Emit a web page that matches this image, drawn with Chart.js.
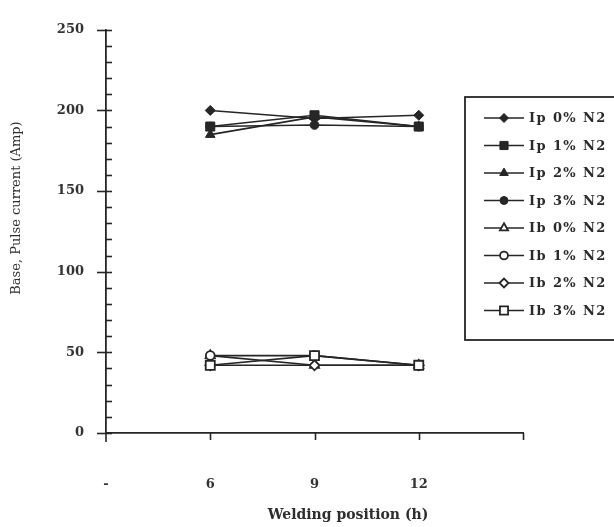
<!DOCTYPE html>
<html>
<head>
<meta charset="utf-8">
<script src="https://cdn.jsdelivr.net/npm/chart.js@4.4.1/dist/chart.umd.min.js"></script>
<style>
  html, body { margin: 0; padding: 0; background: #ffffff; }
  #wrap { position: relative; width: 614px; height: 527px; }
</style>
</head>
<body>
<div id="wrap"><canvas id="c" width="614" height="527"></canvas></div>
<script>
// Welding position categories ('-' is the origin slot, last slot is blank)
const positions = ['-', '6', '9', '12', ''];

// Pulse current (Ip) and base current (Ib), Amp, at positions 6, 9, 12
const ip0 = [200, 195, 197];
const ip1 = [190, 197, 190];
const ip2 = [185, 196, 190];
const ip3 = [190, 191, 190];
const ib0 = [48, 42, 42];
const ib1 = [48, 48, 42];
const ib2 = [42, 42, 42];
const ib3 = [42, 48, 42];

const seriesNames = ['Ip 0% N2', 'Ip 1% N2', 'Ip 2% N2', 'Ip 3% N2',
                     'Ib 0% N2', 'Ib 1% N2', 'Ib 2% N2', 'Ib 3% N2'];
const seriesValues = [ip0, ip1, ip2, ip3, ib0, ib1, ib2, ib3];

const yTicks = [0, 50, 100, 150, 200, 250];

const INK = '#262626';
const SERIF = '"DejaVu Serif", "Liberation Serif", serif';
const styles = ['rectRot', 'rect', 'triangle', 'circle', 'triangle', 'circle', 'rectRot', 'rect'];
const radii  = [5, 6.4, 5.5, 4.4, 5.2, 4.4, 5, 6.4];
// stacking: lower numbers are painted on top
const layer  = [12, 9, 11, 10, 4, 3, 2, 1];

function padSeries(vals) {
  // place the three readings on the 6 / 9 / 12 slots
  return [null, vals[0], vals[1], vals[2], null];
}

const datasets = seriesValues.map((vals, i) => {
  const open = i >= 4;
  return {
    label: seriesNames[i],
    data: padSeries(vals),
    borderColor: INK,
    borderWidth: 1.6,
    pointStyle: styles[i],
    pointRadius: radii[i],
    pointBackgroundColor: open ? '#ffffff' : INK,
    pointBorderColor: INK,
    pointBorderWidth: open ? 1.8 : 1,
    spanGaps: false,
    order: layer[i],
    fill: false,
    tension: 0
  };
});

// tick marks on both axes, axis titles and the boxed legend
const decorations = {
  id: 'decorations',
  afterDraw(chart) {
    const ctx = chart.ctx;
    const x = chart.scales.x, y = chart.scales.y;
    const axisX = x.left, axisY = y.bottom;
    ctx.save();
    ctx.strokeStyle = INK;
    ctx.lineWidth = 1.6;
    // y ticks: majors cross the axis, minors sit inside
    for (let v = 0; v <= 250; v += 10) {
      const py = Math.round(y.getPixelForValue(v)) + 0.5;
      const major = yTicks.includes(v);
      ctx.beginPath();
      ctx.moveTo(axisX - (major ? 9 : 0), py);
      ctx.lineTo(axisX + 6, py);
      ctx.stroke();
    }
    // y axis runs slightly past the origin
    ctx.beginPath();
    ctx.moveTo(axisX, axisY);
    ctx.lineTo(axisX, axisY + 9);
    ctx.stroke();
    // x ticks hang below the axis
    for (let i = 1; i < positions.length; i++) {
      const px = Math.round(x.getPixelForValue(i)) + 0.5;
      ctx.beginPath();
      ctx.moveTo(px, axisY);
      ctx.lineTo(px, axisY + 7);
      ctx.stroke();
    }

    // axis titles
    ctx.fillStyle = '#2e2e2e';
    ctx.textAlign = 'center';
    ctx.textBaseline = 'middle';
    ctx.font = 'bold 14px ' + SERIF;
    ctx.fillText('Welding position (h)', 348, 515);
    ctx.save();
    ctx.translate(17, 208);
    ctx.rotate(-Math.PI / 2);
    ctx.font = '13px ' + SERIF;
    ctx.fillText('Base, Pulse current (Amp)', 0, 0);
    ctx.restore();

    // legend box
    const bx = 465, by = 97, bw = 170, bh = 243;
    ctx.fillStyle = '#ffffff';
    ctx.fillRect(bx, by, bw, bh);
    ctx.lineWidth = 1.8;
    ctx.strokeStyle = INK;
    ctx.strokeRect(bx, by, bw, bh);
    chart.data.datasets.forEach((ds, i) => {
      const ly = by + 21 + i * 27.5;
      ctx.lineWidth = 1.6;
      ctx.strokeStyle = INK;
      ctx.beginPath();
      ctx.moveTo(484, ly);
      ctx.lineTo(524, ly);
      ctx.stroke();
      ctx.fillStyle = ds.pointBackgroundColor;
      ctx.lineWidth = ds.pointBorderWidth;
      Chart.helpers.drawPoint(ctx, {
        pointStyle: ds.pointStyle,
        radius: ds.pointRadius * 0.9,
        rotation: 0,
        borderWidth: ds.pointBorderWidth
      }, 504, ly);
      ctx.fillStyle = '#2a2a2a';
      ctx.textAlign = 'left';
      ctx.textBaseline = 'middle';
      ctx.font = 'bold 13px ' + SERIF;
      if ('letterSpacing' in ctx) ctx.letterSpacing = '1.4px';
      ctx.fillText(ds.label, 529, ly + 1);
      if ('letterSpacing' in ctx) ctx.letterSpacing = '0px';
    });
    ctx.restore();
  }
};

new Chart(document.getElementById('c'), {
  type: 'line',
  data: { labels: positions, datasets },
  options: {
    responsive: false,
    animation: false,
    events: [],
    layout: { padding: { left: 0, top: 19, right: 91, bottom: 0 } },
    plugins: { legend: { display: false }, tooltip: { enabled: false } },
    scales: {
      x: {
        type: 'category',
        offset: false,
        grid: { display: false, drawTicks: false },
        border: { display: true, color: INK, width: 1.8 },
        ticks: {
          padding: 44,
          color: '#333',
          font: { family: SERIF, size: 13, weight: 'bold' },
          maxRotation: 0,
          autoSkip: false
        },
        afterFit(scale) { scale.height = 94; }
      },
      y: {
        min: 0,
        max: 250,
        grid: { display: false, drawTicks: false },
        border: { display: true, color: INK, width: 1.8 },
        ticks: {
          stepSize: 50,
          padding: 22,
          color: '#333',
          font: { family: SERIF, size: 13, weight: 'bold' }
        },
        afterFit(scale) { scale.width = 106; }
      }
    }
  },
  plugins: [decorations]
});
</script>
</body>
</html>
